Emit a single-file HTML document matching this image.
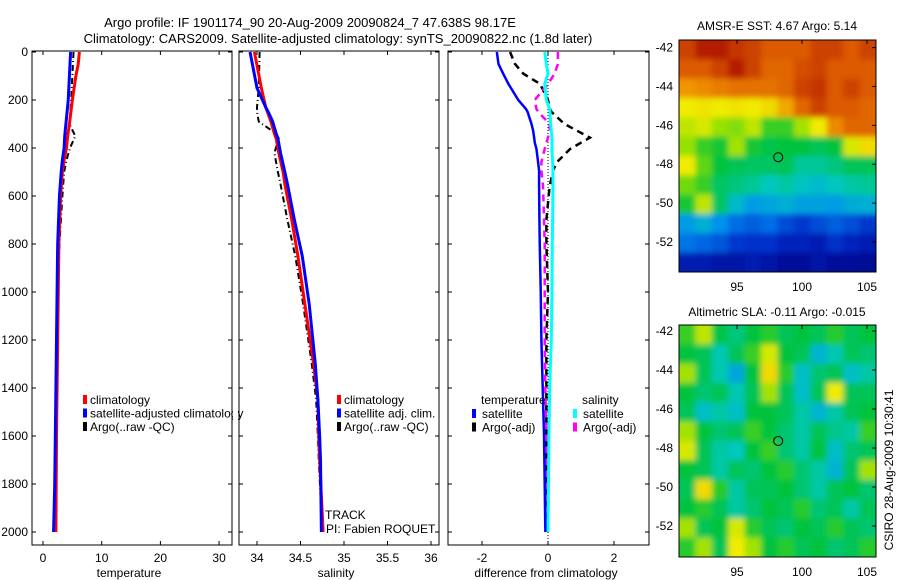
<!DOCTYPE html>
<html><head><meta charset="utf-8"><style>
body{margin:0;background:#fff;}
svg{display:block;font-family:"Liberation Sans",sans-serif;}
</style></head><body>
<svg id="s" width="900" height="580" xmlns="http://www.w3.org/2000/svg">
<defs>
<filter id="bl" x="0" y="0" width="1" height="1"><feGaussianBlur stdDeviation="3"/></filter>
<clipPath id="c1"><rect x="679" y="40" width="197" height="232"/></clipPath>
<clipPath id="c2"><rect x="679" y="325" width="197" height="232"/></clipPath>
</defs>
<text x="310" y="27" font-size="13" text-anchor="middle">Argo profile: IF 1901174_90 20-Aug-2009 20090824_7 47.638S 98.17E</text>
<text x="338" y="43" font-size="13" text-anchor="middle">Climatology: CARS2009. Satellite-adjusted climatology: synTS_20090822.nc (1.8d later)</text>
<text x="777" y="30" font-size="12" text-anchor="middle">AMSR-E SST: 4.67 Argo: 5.14</text>
<text x="777" y="316" font-size="12" text-anchor="middle">Altimetric SLA: -0.11 Argo: -0.015</text>
<text transform="translate(893,470) rotate(-90)" font-size="12" text-anchor="middle">CSIRO 28-Aug-2009 10:30:41</text>
</svg>
<script>
const tDepth=[0,50,100,200,300,350,400,450,500,600,800,1000,1200,1400,1600,1800,2000];
const tClim=[6.2,6.0,5.6,5.0,4.5,4.2,4.0,3.6,3.3,3.0,2.7,2.6,2.5,2.4,2.3,2.25,2.2];
const tSat=[4.7,4.6,4.5,4.3,3.9,3.7,3.6,3.3,3.1,2.8,2.5,2.4,2.3,2.2,2.1,2.0,1.8];
const tArgo=[5.2,5.1,5.0,4.8,4.5,5.5,4.6,4.0,3.6,3.3,2.8,2.6,2.5,2.4,2.3,2.25,2.2];
const sDepth=[0,150,230,250,290,340,360,420,500,550,700,850,1050,1300,1450,1600,1700,2000];
const sClim=[33.97,34.05,34.1,34.12,34.16,34.2,34.22,34.25,34.3,34.32,34.4,34.47,34.55,34.65,34.7,34.71,34.72,34.76];
const sSat=[33.92,34.0,34.1,34.13,34.18,34.22,34.24,34.27,34.32,34.35,34.43,34.52,34.6,34.67,34.7,34.72,34.73,34.74];
const sArgo=[34.03,34.02,34.0,34.0,34.02,34.22,34.25,34.2,34.24,34.27,34.35,34.44,34.53,34.63,34.68,34.7,34.71,34.75];
const dDepth=[0,50,90,133,200,237,249,300,328,357,378,404,459,495,560,700,800,1000,1200,1400,1600,2000];
const dTSat=[-1.55,-1.5,-1.36,-1.2,-0.9,-0.67,-0.62,-0.5,-0.45,-0.42,-0.4,-0.35,-0.3,-0.27,-0.27,-0.26,-0.25,-0.22,-0.2,-0.16,-0.12,-0.08];
const dTArgo=[-1.15,-1.0,-0.75,-0.24,0.0,0.06,0.1,0.5,0.88,1.27,1.0,0.67,0.27,0.15,0.05,-0.05,-0.05,0.0,-0.05,-0.05,-0.05,-0.05];
const dSSat=[-0.1,-0.05,0.0,-0.1,-0.05,0.05,0.06,0.08,0.1,0.12,0.12,0.12,0.14,0.15,0.15,0.14,0.13,0.12,0.1,0.05,0.03,0.0];
const dSArgo=[0.3,0.3,0.2,0.0,-0.4,-0.35,-0.3,0.05,0.05,0.0,-0.05,-0.1,-0.2,-0.2,-0.15,-0.12,-0.1,-0.1,-0.1,-0.08,-0.05,-0.05];
const depthTicks=[0,200,400,600,800,1000,1200,1400,1600,1800,2000];
const tTicks=[0,10,20,30];
const sTicks=[34,34.5,35,35.5,36];
const sTickLabels=["34","34.5","35","35.5","36"];
const dTicks=[-2,0,2];
const latTicks=[-42,-44,-46,-48,-50,-52];
const lonTicks=[95,100,105];
const sstGrid=[
[0.86,0.92,0.92,0.88,0.86,0.82,0.82,0.82,0.86,0.86,0.82,0.86],
[0.82,0.82,0.86,0.92,0.86,0.8,0.8,0.84,0.86,0.82,0.82,0.82],
[0.72,0.74,0.76,0.78,0.78,0.78,0.8,0.86,0.88,0.82,0.86,0.82],
[0.62,0.63,0.62,0.63,0.62,0.64,0.7,0.8,0.86,0.82,0.82,0.8],
[0.58,0.6,0.55,0.54,0.58,0.5,0.5,0.56,0.62,0.74,0.8,0.8],
[0.55,0.5,0.48,0.56,0.48,0.46,0.47,0.47,0.45,0.47,0.6,0.64],
[0.62,0.52,0.47,0.45,0.44,0.44,0.45,0.4,0.4,0.42,0.45,0.45],
[0.53,0.5,0.44,0.42,0.4,0.37,0.39,0.36,0.34,0.37,0.39,0.4],
[0.48,0.58,0.44,0.34,0.28,0.3,0.32,0.29,0.29,0.28,0.31,0.32],
[0.28,0.32,0.26,0.21,0.19,0.21,0.17,0.14,0.17,0.19,0.17,0.14],
[0.22,0.2,0.18,0.14,0.13,0.13,0.1,0.1,0.08,0.13,0.1,0.08],
[0.08,0.08,0.06,0.06,0.08,0.06,0.04,0.04,0.06,0.04,0.04,0.03]];
const slaGrid=[
[0.5,0.58,0.46,0.42,0.47,0.49,0.45,0.47,0.45,0.49,0.45,0.47],
[0.47,0.45,0.38,0.45,0.5,0.6,0.47,0.45,0.33,0.38,0.45,0.43],
[0.56,0.45,0.38,0.3,0.47,0.64,0.49,0.35,0.43,0.45,0.35,0.39],
[0.47,0.43,0.45,0.38,0.45,0.56,0.45,0.35,0.45,0.62,0.45,0.45],
[0.45,0.35,0.39,0.35,0.47,0.47,0.45,0.39,0.33,0.39,0.45,0.47],
[0.56,0.47,0.43,0.45,0.5,0.47,0.43,0.39,0.45,0.41,0.39,0.5],
[0.6,0.45,0.39,0.37,0.47,0.5,0.43,0.39,0.47,0.35,0.43,0.45],
[0.47,0.45,0.39,0.45,0.43,0.47,0.49,0.43,0.39,0.33,0.45,0.56],
[0.45,0.64,0.49,0.39,0.45,0.45,0.47,0.43,0.39,0.45,0.47,0.43],
[0.47,0.49,0.45,0.39,0.43,0.47,0.45,0.49,0.43,0.45,0.39,0.45],
[0.56,0.45,0.47,0.6,0.49,0.45,0.43,0.47,0.45,0.49,0.45,0.43],
[0.49,0.56,0.45,0.62,0.56,0.47,0.49,0.45,0.47,0.43,0.45,0.49]];
const cmapStops=[0,0.12,0.25,0.37,0.47,0.55,0.62,0.72,0.82,0.92,1];
const cmapColors=[[0,0,130],[0,40,200],[0,140,240],[0,200,190],[0,195,60],[150,225,0],[240,235,0],[240,150,0],[220,90,0],[180,30,0],[150,10,0]];

const NS="http://www.w3.org/2000/svg";
const S=document.getElementById('s');
function mk(t,a,p){const e=document.createElementNS(NS,t);for(const k in a)e.setAttribute(k,a[k]);(p||S).appendChild(e);return e;}
const Y=d=>52+d*0.24;
function cmap(v){v=Math.max(0,Math.min(1,v));let i=0;while(i<cmapStops.length-2&&v>cmapStops[i+1])i++;
  const f=(v-cmapStops[i])/(cmapStops[i+1]-cmapStops[i]);const a=cmapColors[i],b=cmapColors[i+1];
  return `rgb(${a.map((c,k)=>Math.round(c+(b[k]-c)*f)).join(',')})`;}

function panel(x0,x1,name){
  const r=mk('rect',{x:x0,y:51,width:x1-x0,height:494,fill:'none',stroke:'#000','stroke-width':1});
  
  
  depthTicks.forEach(d=>{mk('line',{x1:x0,x2:x0+4,y1:Y(d),y2:Y(d),stroke:'#000'});mk('line',{x1:x1-4,x2:x1,y1:Y(d),y2:Y(d),stroke:'#000'});});
}
function xticks(vals,labels,X,name){
  vals.forEach((v,i)=>{mk('line',{x1:X(v),x2:X(v),y1:545,y2:541,stroke:'#000'});mk('line',{x1:X(v),x2:X(v),y1:51,y2:55,stroke:'#000'});
    const t=mk('text',{x:X(v),y:562,'font-size':12,'text-anchor':'middle'});t.textContent=labels[i];
    
    });
}
function line(xs,ds,X,col,w,dash,name){
  const p=mk('polyline',{points:xs.map((v,i)=>X(v)+','+Y(ds[i])).join(' '),fill:'none',stroke:col,'stroke-width':w,'stroke-dasharray':dash||'none'});
  
  
}
function label(x,y,s,name,anchor){const t=mk('text',{x:x,y:y,'font-size':12,'text-anchor':anchor||'start'});t.textContent=s;
  
  return t;}

depthTicks.forEach(d=>{const t=mk('text',{x:28,y:Y(d)+4,'font-size':12,'text-anchor':'end'});t.textContent=d;
  
  });

const XT=v=>43+v*5.87;
panel(32,232,'temperature-panel');
xticks(tTicks,tTicks.map(String),XT,'temperature-x');
line(tArgo,tDepth,XT,'#000',2,'6,3,1,3','temp-argo-line');
line(tClim,tDepth,XT,'#f00',3,null,'temp-climatology-line');
line(tSat,tDepth,XT,'#00f',3,null,'temp-satellite-line');
label(129,577,'temperature','temperature-axis-title','middle');
[['#f00','climatology'],['#00f','satellite-adjusted climatology'],['#000','Argo(..raw -QC)']].forEach((l,i)=>{
  mk('rect',{x:83,y:395+i*13.5,width:4,height:9,fill:l[0]});
  label(90,404+i*13.5,l[1],'temp-legend-entry');});
mk('rect',{x:233,y:393,width:5,height:30,fill:'#fff'});

const XS=v=>257+(v-34)*87;
panel(239,439,'salinity-panel');
xticks(sTicks,sTickLabels,XS,'salinity-x');
line(sArgo,sDepth,XS,'#000',2,'6,3,1,3','sal-argo-line');
line(sClim,sDepth,XS,'#f00',3,null,'sal-climatology-line');
line(sSat,sDepth,XS,'#00f',3,null,'sal-satellite-line');
label(336,577,'salinity','salinity-axis-title','middle');
[['#f00','climatology'],['#00f','satellite adj. clim.'],['#000','Argo(..raw -QC)']].forEach((l,i)=>{
  mk('rect',{x:337,y:395+i*13.5,width:4,height:9,fill:l[0]});
  label(344,404+i*13.5,l[1],'sal-legend-entry');});
label(325,519,'TRACK','track-label');
label(326,533,'PI: Fabien ROQUET','pi-label');

const XD=v=>548+v*33;
panel(448,649,'difference-panel');
xticks(dTicks,dTicks.map(String),XD,'difference-x');
mk('line',{x1:548,x2:548,y1:52,y2:545,stroke:'#000','stroke-dasharray':'1,2'});
line(dTArgo,dDepth,XD,'#000',2.5,'7,5','diff-temp-argo-line');
line(dSArgo,dDepth,XD,'#f0f',2.5,'7,5','diff-sal-argo-line');
line(dSSat,dDepth,XD,'#0ff',3,null,'diff-sal-satellite-line');
line(dTSat,dDepth,XD,'#00f',2.5,null,'diff-temp-satellite-line');
label(546,577,'difference from climatology','difference-axis-title','middle');
label(481,404,'temperature','diff-legend-temp-title');
label(582,404,'salinity','diff-legend-sal-title');
[['#00f','satellite',472],['#000','Argo(-adj)',472],['#0ff','satellite',573],['#f0f','Argo(-adj)',573]].forEach((l,i)=>{
  const r=i%2;mk('rect',{x:l[2],y:409+r*13.5,width:4,height:9,fill:l[0]});
  label(l[2]+10,418+r*13.5,l[1],'diff-legend-entry');});

function map(grid,top,bot,lat42,lat52,name,clip){
  const x0=679,x1=876,rows=grid.length,cols=grid[0].length,cw=(x1-x0)/cols,ch=(bot-top)/rows;
  const gc=mk('g',{'clip-path':'url(#'+clip+')'});
  const g=mk('g',{filter:'url(#bl)'},gc);
  
  
  grid.forEach((row,i)=>row.forEach((v,j)=>{
    const c=mk('rect',{x:x0+j*cw-(j==0?8:0),y:top+i*ch-(i==0?8:0),width:cw+0.6+(j==0||j==cols-1?8:0),height:ch+0.6+(i==0||i==rows-1?8:0),fill:cmap(v)},g);
    
    }));
  const f=mk('rect',{x:x0,y:top,width:x1-x0,height:bot-top,fill:'none',stroke:'#000'});
  
  
  const LY=l=>lat42+(l+42)/(-10)*(lat52-lat42);
  latTicks.forEach(l=>{mk('line',{x1:x1-4,x2:x1,y1:LY(l),y2:LY(l),stroke:'#000'});
    const t=mk('text',{x:673,y:LY(l)+4,'font-size':12,'text-anchor':'end'});t.textContent=l;
    
    });
  const LX=v=>737+(v-95)*13;
  lonTicks.forEach(v=>{mk('line',{x1:LX(v),x2:LX(v),y1:top,y2:top+4,stroke:'#000'});
    const t=mk('text',{x:LX(v),y:bot+19,'font-size':12,'text-anchor':'middle'});t.textContent=v;
    
    });
  const c=mk('circle',{cx:LX(98.17),cy:LY(-47.638),r:4.5,fill:'none',stroke:'#000'});
  
  
}
map(sstGrid,40,272,47.6,242,'sst-map','c1');
map(slaGrid,325,557,331,526,'sla-map','c2');
</script>
</body></html>
